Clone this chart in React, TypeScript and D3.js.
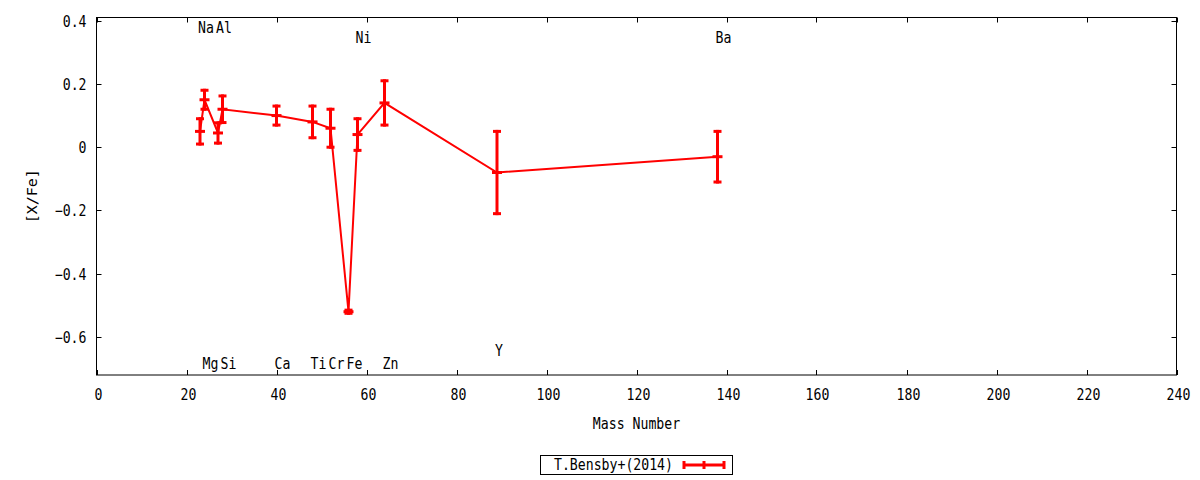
import { useEffect, useRef } from "react";
import * as d3 from "d3";

const ELEMENTS = ["Na", "Mg", "Al", "Si", "Ca", "Ti", "Cr", "Fe", "Ni", "Zn", "Y", "Ba"];
const MASS = [23, 24, 27, 28, 40, 48, 52, 56, 58, 64, 89, 138];
const XFE = [0.05, 0.15, 0.045, 0.12, 0.10, 0.08, 0.06, -0.52, 0.04, 0.14, -0.08, -0.03];
const ERR = [0.04, 0.03, 0.032, 0.042, 0.03, 0.05, 0.06, 0.005, 0.05, 0.07, 0.13, 0.08];
const LABEL_Y = [0.38, -0.68, 0.38, -0.68, -0.68, -0.68, -0.68, -0.68, 0.35, -0.68, -0.64, 0.35];

const X_TICKS = d3.range(0, 241, 20);
const Y_TICKS = [-0.6, -0.4, -0.2, 0, 0.2, 0.4];
const SERIES = "T.Bensby+(2014)";

const W = 1200;
const H = 480;
const M = { left: 96.5, right: 23.5, top: 17.5, bottom: 105 };
const FONT = "'DejaVu Sans Mono', monospace";
const RED = "#ff0000";
const SX = 0.88; // gnuplot's font is narrower than DejaVu Sans Mono

type Sel = d3.Selection<SVGGElement, unknown, null, undefined>;

// condensed text: draw at origin, then translate + squeeze horizontally
function txt(parent: Sel, x: number, y: number, s: string, anchor = "start", rotate = 0) {
  return parent
    .append("text")
    .attr("transform", `translate(${x},${y}) rotate(${rotate}) scale(${SX},1)`)
    .attr("text-anchor", anchor)
    .attr("dominant-baseline", "central")
    .text(s);
}

export default function App() {
  const ref = useRef<SVGSVGElement>(null);

  useEffect(() => {
    const svg = d3.select(ref.current!);
    svg.selectAll("*").remove();

    const x = d3.scaleLinear().domain([0, 240]).range([M.left, W - M.right]);
    const y = d3.scaleLinear().domain([-0.72, 0.41]).range([H - M.bottom, M.top]);
    const [x0, x1] = x.range();
    const [y0, y1] = y.range();
    const tick = 5;

    const g: Sel = svg.append("g").attr("font-family", FONT).attr("font-size", 15).attr("fill", "#000");

    // ticks (mirrored, inward)
    X_TICKS.forEach((t) => {
      const px = Math.round(x(t)) + 0.5;
      g.append("line").attr("x1", px).attr("x2", px).attr("y1", y0).attr("y2", y0 - tick).attr("stroke", "#000");
      g.append("line").attr("x1", px).attr("x2", px).attr("y1", y1).attr("y2", y1 + tick).attr("stroke", "#000");
      txt(g, px + 1, y0 + 20, String(t), "middle");
    });
    Y_TICKS.forEach((t) => {
      const py = Math.round(y(t)) + 0.5;
      g.append("line").attr("x1", x0).attr("x2", x0 + tick).attr("y1", py).attr("y2", py).attr("stroke", "#000");
      g.append("line").attr("x1", x1).attr("x2", x1 - tick).attr("y1", py).attr("y2", py).attr("stroke", "#000");
      txt(g, x0 - 10, py, t === 0 ? "0" : d3.format(".1f")(t), "end");
    });

    g.append("rect")
      .attr("x", x0).attr("y", y1).attr("width", x1 - x0).attr("height", y0 - y1)
      .attr("fill", "none").attr("stroke", "#000");

    // axis titles
    txt(g, (x0 + x1) / 2, 424, "Mass Number", "middle");
    g.append("text")
      .attr("transform", `translate(32,${(y0 + y1) / 2}) rotate(-90) scale(1,${SX})`)
      .attr("text-anchor", "middle").attr("dominant-baseline", "central").text("[X/Fe]");

    // element labels
    ELEMENTS.forEach((el, i) => {
      txt(g, x(MASS[i]) - 2, y(LABEL_Y[i]) + 1, el);
    });

    // connecting line
    const line = d3.line<number>().x((_, i) => x(MASS[i])).y((d) => y(d));
    svg.append("path").datum(XFE).attr("d", line).attr("fill", "none").attr("stroke", RED).attr("stroke-width", 2);

    // error bars
    const eb = svg.append("g").attr("stroke", RED).attr("stroke-width", 3);
    XFE.forEach((v, i) => {
      const px = x(MASS[i]);
      const top = y(v + ERR[i]);
      const bot = y(v - ERR[i]);
      eb.append("line").attr("x1", px).attr("x2", px).attr("y1", top - 1.5).attr("y2", bot + 1.5);
      eb.append("line").attr("x1", px - 4).attr("x2", px + 4).attr("y1", top).attr("y2", top);
      eb.append("line").attr("x1", px - 4).attr("x2", px + 4).attr("y1", bot).attr("y2", bot);
      eb.append("line").attr("x1", px - 5).attr("x2", px + 5).attr("y1", y(v)).attr("y2", y(v));
    });

    // legend
    const lg: Sel = svg.append("g").attr("font-family", FONT).attr("font-size", 15);
    lg.append("rect").attr("x", 540.5).attr("y", 455.5).attr("width", 192).attr("height", 19)
      .attr("fill", "#fff").attr("stroke", "#000");
    txt(lg, 673, 465, SERIES, "end");
    const ly = 465;
    lg.append("line").attr("x1", 684).attr("x2", 724).attr("y1", ly).attr("y2", ly).attr("stroke", RED).attr("stroke-width", 3);
    [684, 704, 724].forEach((lx) => {
      lg.append("line").attr("x1", lx).attr("x2", lx).attr("y1", ly - 4).attr("y2", ly + 4).attr("stroke", RED).attr("stroke-width", 3);
    });
  }, []);

  return (
    <svg
      ref={ref}
      width={W}
      height={H}
      style={{ position: "absolute", left: 0, top: 0, background: "#fff" }}
    />
  );
}
